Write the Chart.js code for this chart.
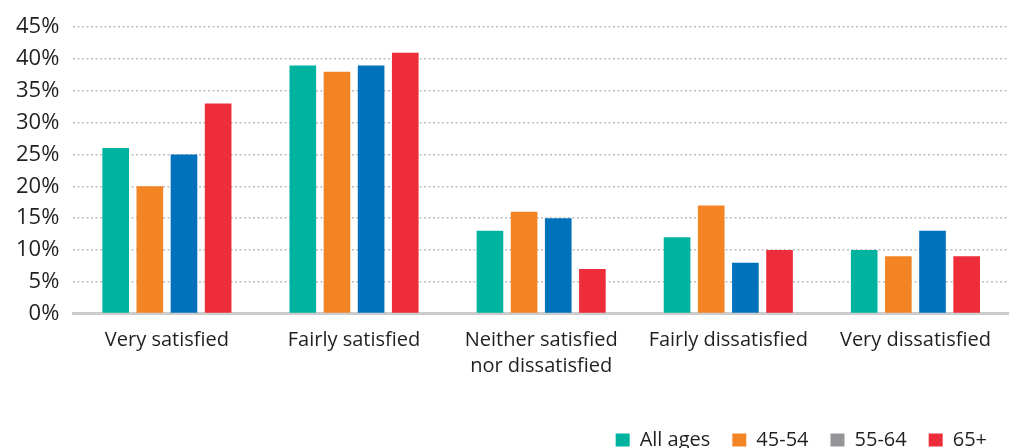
<!DOCTYPE html>
<html>
<head>
<meta charset="utf-8">
<script src="https://cdn.jsdelivr.net/npm/chart.js@4.4.1/dist/chart.umd.min.js"></script>
<style>
  html, body { margin: 0; padding: 0; background: #ffffff; }
  canvas { display: block; }
</style>
</head>
<body>
<canvas id="chart" width="1009" height="448"></canvas>
<script>
// Satisfaction by age group (percent of respondents)
const categories = [
  'Very satisfied',
  'Fairly satisfied',
  ['Neither satisfied', 'nor dissatisfied'],
  'Fairly dissatisfied',
  'Very dissatisfied'
];
const seriesNames = ['All ages', '45-54', '55-64', '65+'];
const allAges   = [26, 39, 13, 12, 10];
const age45to54 = [20, 38, 16, 17, 9];
const age55to64 = [25, 39, 15, 8, 13];
const age65plus = [33, 41, 7, 10, 9];
const yTickValues = [0, 5, 10, 15, 20, 25, 30, 35, 40, 45];

const barColors    = ['#00b39f', '#f38424', '#0072bb', '#ee2d3a'];
const legendColors = ['#00b39f', '#f38424', '#939598', '#ee2d3a'];
const textColor = '#231f20';
const fontFamily = '"Open Sans", Lato, sans-serif';

const seriesValues = [allAges, age45to54, age55to64, age65plus];

new Chart(document.getElementById('chart'), {
  type: 'bar',
  data: {
    labels: categories,
    datasets: seriesNames.map((name, i) => ({
      label: name,
      data: seriesValues[i],
      backgroundColor: barColors[i],
      borderWidth: 0,
      categoryPercentage: 0.73,
      barPercentage: 0.78
    }))
  },
  options: {
    responsive: false,
    animation: false,
    layout: { padding: { top: 14, left: 2, right: 0, bottom: -12 } },
    plugins: {
      tooltip: { enabled: false },
      legend: {
        position: 'bottom',
        align: 'end',
        // empty title keeps a gap between the axis labels and the legend row
        title: { display: true, text: '', padding: 0, font: { size: 12 } },
        labels: {
          boxWidth: 14,
          boxHeight: 13,
          padding: 22,
          color: textColor,
          font: { family: fontFamily, size: 20 },
          generateLabels: (chart) => chart.data.datasets.map((ds, i) => ({
            text: ds.label,
            fillStyle: legendColors[i],
            strokeStyle: legendColors[i],
            lineWidth: 0,
            hidden: false,
            datasetIndex: i,
            fontColor: textColor
          }))
        }
      }
    },
    scales: {
      x: {
        z: 1,
        grid: { display: false, drawTicks: false },
        border: { display: true, color: '#cccccc', width: 3 },
        ticks: {
          autoSkip: false,
          maxRotation: 0,
          padding: 14,
          color: textColor,
          font: { family: fontFamily, size: 20, lineHeight: 1.3 }
        }
      },
      y: {
        min: 0,
        max: 45,
        afterBuildTicks: (scale) => { scale.ticks = yTickValues.map(v => ({ value: v })); },
        grid: {
          drawTicks: false,
          color: (ctx) => ctx.tick && ctx.tick.value === 0 ? 'rgba(0,0,0,0)' : '#bdbdbd',
          lineWidth: 1.5
        },
        border: { display: false, dash: [2, 2.5] },
        ticks: {
          autoSkip: false,
          padding: 14,
          color: textColor,
          font: { family: fontFamily, size: 22 },
          callback: (v) => v + '%'
        }
      }
    }
  }
});
</script>
</body>
</html>
